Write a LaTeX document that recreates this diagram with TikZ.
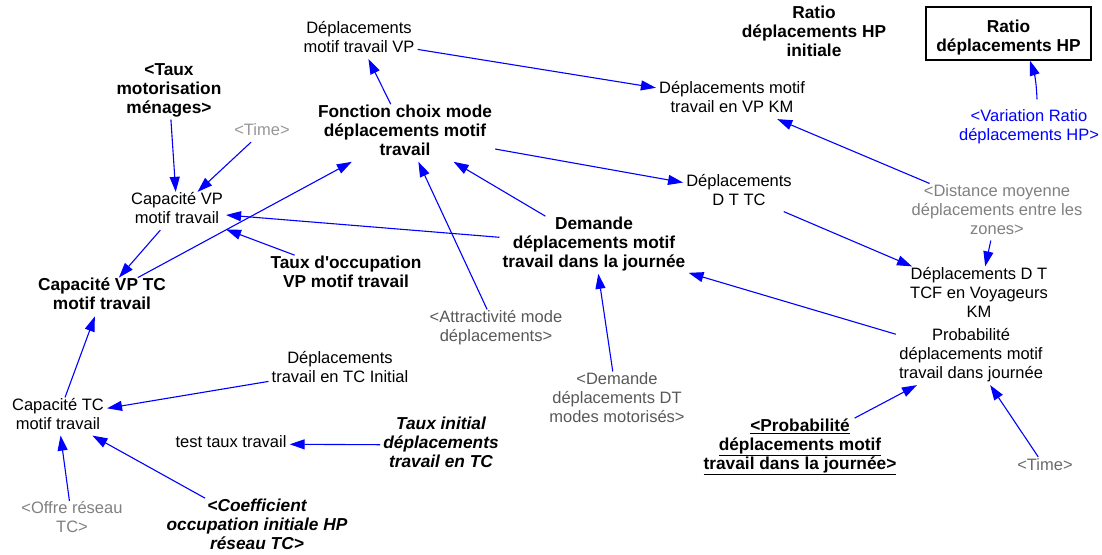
\documentclass[tikz,border=0pt]{standalone}
\usepackage{fontspec}
\setmainfont{Liberation Sans}
\usetikzlibrary{arrows.meta}
\definecolor{linkblue}{RGB}{0,0,255}
\definecolor{shadowlight}{RGB}{150,150,150}
\definecolor{shadowmid}{RGB}{128,128,128}
\definecolor{shadowtime}{RGB}{105,105,105}
\definecolor{shadowdark}{RGB}{88,88,88}
\begin{document}
\begin{tikzpicture}[x=1pt,y=1pt,
  var/.style={align=center, inner xsep=3pt, inner ysep=0.5pt,
    font=\fontsize{16.5}{19}\selectfont,
    execute at begin node=\strut, execute at end node=\strut},
  bvar/.style={var, font=\fontsize{17.3}{19}\selectfont\bfseries},
  bivar/.style={var, font=\fontsize{17.3}{19}\selectfont\bfseries\itshape},
  link/.style={draw=linkblue, line width=1.1pt,
    -{Triangle[length=15pt,width=10pt]}, fill=none},
]
\useasboundingbox (0,0) rectangle (1102,-554);

% model variables
\node[var] (dmtvp) at (359,-40) {Déplacements\\motif travail VP};
\node[bvar] (rhpi) at (814,-34.5) {Ratio\\déplacements HP\\initiale};
\node[bvar] (rhp) at (1008.5,-39) {Ratio\\déplacements HP};
\node[draw, line width=1.2pt, minimum width=165pt, minimum height=53pt, inner sep=0pt] (rhpbox) at (1008.5,-33.5) {};
\node[var, text=linkblue] (vrhp) at (1029,-127.5) {<Variation Ratio\\déplacements HP>};
\node[var] (dmtvpkm) at (732,-100) {Déplacements motif\\travail en VP KM};
\node[bvar] (tmot) at (169,-91) {<Taux\\motorisation\\ménages>};
\node[var, text=shadowlight] (timea) at (262,-132) {<Time>};
\node[bvar] (fonc) at (405,-133) {Fonction choix mode\\déplacements motif\\travail};
\node[var] (capvp) at (177,-211) {Capacité VP\\motif travail};
\node[var] (dttc) at (739,-192.5) {Déplacements\\D T TC};
\node[var, text=shadowmid] (dist) at (997,-212) {<Distance moyenne\\déplacements entre les\\zones>};
\node[bvar] (capvptc) at (102,-297) {Capacité VP TC\\motif travail};
\node[bvar] (tocc) at (346,-274.5) {Taux d\textquotesingle occupation\\VP motif travail};
\node[bvar] (dem) at (594,-245) {Demande\\déplacements motif\\travail dans la journée};
\node[var] (dttcf) at (979,-295) {Déplacements D T\\TCF en Voyageurs\\KM};
\node[var] (prob) at (971,-356.5) {Probabilité\\déplacements motif\\travail dans journée};
\node[var, text=shadowdark] (attr) at (496,-328.5) {<Attractivité mode\\déplacements>};
\node[var] (dtci) at (340,-369.5) {Déplacements\\travail en TC Initial};
\node[var, text=shadowdark] (ddt) at (617,-400) {<Demande\\déplacements DT\\modes motorisés>};
\node[var] (captc) at (58,-416.5) {Capacité TC\\motif travail};
\node[var] (test) at (231,-444) {test taux travail};
\node[bivar] (tinit) at (441,-445) {Taux initial\\déplacements\\travail en TC};
\node[bvar] (probl) at (800,-447) {\underline{<Probabilité}\\\underline{déplacements motif}\\\underline{travail dans la journée>}};
\node[var, text=shadowtime] (timeb) at (1045,-467) {<Time>};
\node[var, text=shadowmid] (offre) at (72,-520) {<Offre réseau\\TC>};
\node[bivar] (coef) at (257,-527) {<Coefficient\\occupation initiale HP\\réseau TC>};

% causal links
\draw[link] (fonc) -- (dmtvp);
\draw[link] (dmtvp) -- (dmtvpkm);
\draw[link] (fonc) -- (dttc);
\draw[link] (dem) -- (fonc);
\draw[link] (attr) -- (fonc);
\draw[link] (dem) -- (capvp);
\draw[link] (capvptc) -- (fonc);
\draw[link] (tmot) -- (capvp);
\draw[link] (timea) -- (capvp);
\draw[link] (tocc) -- (capvp);
\draw[link] (capvp) -- (capvptc);
\draw[link] (captc) -- (capvptc);
\draw[link] (dtci) -- (captc);
\draw[link] (tinit) -- (test);
\draw[link] (offre) -- (captc);
\draw[link] (coef) -- (captc);
\draw[link] (ddt) -- (dem);
\draw[link] (prob) -- (dem);
\draw[link] (dist) -- (dmtvpkm);
\draw[link] (dist) -- (dttcf);
\draw[link] (dttc) -- (dttcf);
\draw[link] (probl) -- (prob);
\draw[link] (timeb) -- (prob);
\draw[link] ([shift={(8pt,9pt)}]vrhp.north) to[out=92,in=-72] ([xshift=21.5pt]rhpbox.south);
\end{tikzpicture}
\end{document}
